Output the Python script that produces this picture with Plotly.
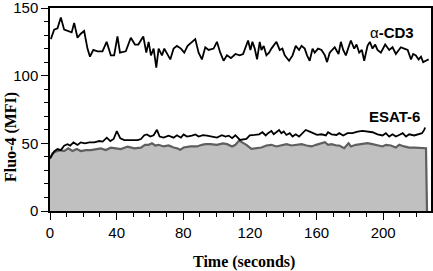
import plotly.graph_objects as go

# alpha-CD3 stimulated trace (time in s, Fluo-4 MFI)
cd3_time = [0.5, 2.5, 4.5, 6.5, 8.5, 11.5, 13, 14.5, 16.5, 18.5, 20.5, 22.5, 24, 26, 28.5, 31.5,
            34, 36.5, 38.5, 40.5, 42, 45.5, 48.5, 51, 53, 56, 57.8, 59.2, 60.6, 62.2, 63.8, 65.2,
            67.2, 68.6, 70.6, 72.2, 74.2, 76.2, 78.6, 80.6, 82.6, 85.2, 87.2, 89.2, 91.2, 93.2,
            95.2, 98.2, 100.2, 102.2, 104.2, 106.2, 108.6, 111.3, 113.9, 115.9, 117.5, 118.9,
            120.3, 121.5, 122.9, 124.3, 125.9, 126.9, 128.3, 129.9, 131.5, 132.9, 135.9, 137.9,
            139.5, 140.9, 143.5, 145.6, 147.5, 149.5, 151, 152.9, 154.3, 155.9, 157.6, 158.9,
            160.9, 163, 165, 166.3, 167.9, 169.5, 170.9, 173.2, 174.6, 176, 177.6, 179.2, 180.6,
            182.6, 184, 185.6, 187.2, 188.6, 190.6, 192, 193.6, 195.2, 196.6, 198.6, 201.2,
            203.6, 205.6, 207.6, 210.6, 212.6, 214.7, 216.7, 218, 219.6, 221.3, 222.7, 224,
            225.6, 227.3]
cd3_mfi = [127, 134, 135, 143, 134, 133, 132, 139, 128, 131, 133, 120, 114, 119, 118, 118,
           125, 115, 115, 129, 117, 118, 128, 123, 123, 129, 117, 125, 115, 120, 106, 120,
           115, 120, 115, 112, 120, 122, 120, 117, 122, 125, 127, 117, 112, 121,
           119, 120, 125, 117, 111, 115, 113, 116, 115, 116, 122, 126,
           119, 125, 120, 112, 125, 119, 122, 115, 117, 120, 125, 119,
           120, 115, 111, 115, 122, 119, 122, 120, 115, 111, 120, 117,
           120, 119, 115, 110, 117, 119, 121, 116, 125, 119, 115, 121, 126,
           120, 123, 117, 119, 111, 122, 125, 120, 123, 119, 117, 123,
           119, 121, 116, 121, 120, 119, 112, 116, 115, 112, 114, 110,
           111, 112]

# ESAT-6 stimulated trace
esat_time = [0, 2.5, 4.5, 6.5, 8.5, 10.5, 12.1, 14.1, 16.5, 18.5, 20.9, 23.6, 26.6, 29.6, 31.6,
             34.1, 36.2, 38.2, 40.1, 42.2, 44.6, 48.6, 52.6, 54.6, 56.6, 58.2, 60.2, 62.2, 64.2,
             65.8, 68.2, 71.2, 74.2, 76.2, 78.6, 80.2, 82.2, 85.2, 87.3, 89.2, 91.8, 94.2, 96.3,
             100.2, 103.2, 105.3, 107.3, 109.3, 111.3, 114, 117.9, 119.9, 122.9, 125.5, 127.5,
             129.5, 130.9, 132.9, 134.3, 135.9, 137.5, 138.9, 140.3, 141.9, 143.9, 145.6, 147.5,
             149.5, 151.6, 153.5, 155.9, 158.3, 160.3, 163, 165.6, 166.9, 169, 172, 173.6, 176,
             178.6, 181.6, 184.6, 187.6, 190.6, 193.6, 196.6, 199.6, 201.6, 203.6, 205.6, 207.6,
             209.6, 211.7, 213.7, 215.6, 218.6, 221.3, 223.3, 224.6, 225.2]
esat_mfi = [39, 44, 45.8, 45, 48.3, 49.3, 48.3, 50.7, 48.8, 50.7, 50, 50.7, 50.7, 51.7, 51.3,
            54.2, 51.7, 53.2, 59, 53.7, 52.4, 52.4, 52.4, 53.2, 56, 56.6, 55, 56, 60,
            55, 54.2, 55.7, 54.2, 56, 54.2, 56.6, 55, 55.7, 56.6, 55, 56, 55.7, 55,
            54.2, 56, 55, 55.7, 53.8, 56, 52.5, 53.3, 55.8, 56.2, 56.7, 58.2,
            55.8, 57.5, 59.2, 56.7, 58.2, 59.9, 57.5, 58.7, 56.2, 57.5, 55, 56.7,
            55, 57.5, 59.9, 58.7, 57.5, 56.2, 56.7, 55.8, 58.2, 56.7, 56.2, 57.5, 55.8,
            57.5, 57.5, 58.7, 59.2, 58.7, 58.2, 56.7, 55.8, 57.5, 55, 56.7, 55,
            56.2, 57.5, 55, 56.7, 55.8, 56.7, 57.5, 59.9, 61.7]

# unstimulated control (grey, filled)
ctrl_time = [0, 1.5, 3.5, 6.5, 8.5, 10.9, 13.5, 16.1, 18.5, 21.5, 24.5, 27.5, 30.5, 33.5, 36.5,
             39.5, 42.5, 46.6, 50.6, 54.6, 57, 59.2, 61.2, 63.2, 65.2, 68.2, 71.2, 74.2, 76.2,
             78.2, 80.2, 84.3, 88.2, 91.2, 93.3, 96.3, 100.2, 103.8, 106.3, 109.3, 111.3, 113.5,
             115.5, 117.9, 120.9, 123.9, 126.9, 129.9, 132.9, 135.9, 138.9, 141.9, 145, 148,
             151, 154, 157, 159.7, 163, 165, 166.9, 169, 172, 173.6, 176.6, 179.2, 180.6, 183.6,
             186.6, 190.6, 193.6, 196.6, 199.6, 201.6, 204.6, 207.6, 209.6, 212.6, 215.6, 218.6,
             222.7, 225.7, 226.3]
ctrl_mfi = [38.5, 42.6, 44, 45, 44.3, 46.3, 44.3, 45.8, 44.3, 45, 45, 45.8, 46.3, 45, 46.8,
            46.3, 45.8, 47.6, 46.3, 46.8, 48.8, 48.9, 50, 48.4, 48.9, 47.7, 48.4, 46.9, 46.4,
            45.2, 46.9, 47.7, 47.7, 48.9, 49.4, 49.4, 48.9, 50, 49.4, 47.7, 48.9, 52,
            50.5, 48.9, 45.9, 46.4, 46.9, 48.4, 48.9, 47.7, 48.4, 49.4, 48.4, 48.9,
            49.4, 48.4, 47.7, 48.9, 50.1, 50.8, 48.9, 49.4, 48.4, 48.4, 46.4, 50.1, 47.7, 48.9,
            49.4, 50.1, 49.4, 48.4, 47.7, 48.9, 48.4, 46.9, 48.9, 47.7, 46.9, 46.9,
            46.9, 46.4, 0]

fig = go.Figure()
fig.add_trace(go.Scatter(x=ctrl_time, y=ctrl_mfi, mode="lines", fill="tozeroy",
                         fillcolor="#c0c0c0", line=dict(color="#5f5f5f", width=2.2)))
fig.add_trace(go.Scatter(x=esat_time, y=esat_mfi, mode="lines",
                         line=dict(color="#000000", width=1.8)))
fig.add_trace(go.Scatter(x=cd3_time, y=cd3_mfi, mode="lines",
                         line=dict(color="#000000", width=1.8)))

sans = "Liberation Sans Narrow, Arial Narrow, Liberation Sans, Arial"
serif = "Liberation Serif, Times New Roman, serif"

# series labels
fig.add_annotation(x=219.5, y=132, xanchor="right", text="α<b>-CD3</b>", showarrow=False,
                   font=dict(family=sans, size=15, color="black"))
fig.add_annotation(x=223.5, y=70, xanchor="right", text="<b>ESAT-6</b>", showarrow=False,
                   font=dict(family=sans, size=15, color="black"))

# axis titles
fig.add_annotation(x=0.51, y=-0.25, xref="paper", yref="paper", showarrow=False,
                   text="<b>Time (seconds)</b>", yanchor="middle",
                   font=dict(family=serif, size=16, color="black"))
fig.add_annotation(x=-0.102, y=0.365, xref="paper", yref="paper", showarrow=False,
                   text="<b>Fluo-4 (MFI)</b>", textangle=-90, xanchor="center", yanchor="middle",
                   font=dict(family=serif, size=16, color="black"))

fig.update_layout(
    width=433, height=271,
    margin=dict(l=50, r=2, t=8, b=60),
    paper_bgcolor="white", plot_bgcolor="white",
    showlegend=False,
    font=dict(family=sans, size=15, color="black"),
)
fig.update_xaxes(
    range=[0, 228.7], tickvals=[0, 40, 80, 120, 160, 200],
    ticks="outside", ticklen=7, tickwidth=1.3, tickcolor="black",
    minor=dict(dtick=10, ticks="outside", ticklen=4, tickwidth=1.2, tickcolor="black"),
    showline=True, linecolor="black", linewidth=1.5, mirror=True,
    showgrid=False, zeroline=False, automargin=False, ticklabeloverflow="allow",
)
fig.update_yaxes(
    range=[0, 150], tickvals=[0, 50, 100, 150],
    ticks="outside", ticklen=7, tickwidth=1.3, tickcolor="black",
    minor=dict(dtick=10, ticks="outside", ticklen=4, tickwidth=1.2, tickcolor="black"),
    showline=True, linecolor="black", linewidth=1.5, mirror=True,
    showgrid=False, zeroline=False, automargin=False, ticklabeloverflow="allow",
)

# drop the browser's default 8px body margin so the figure sits at the page origin
fig.write_html("out.html", config={"displayModeBar": False},
               post_script="document.body.style.margin = '0';")
